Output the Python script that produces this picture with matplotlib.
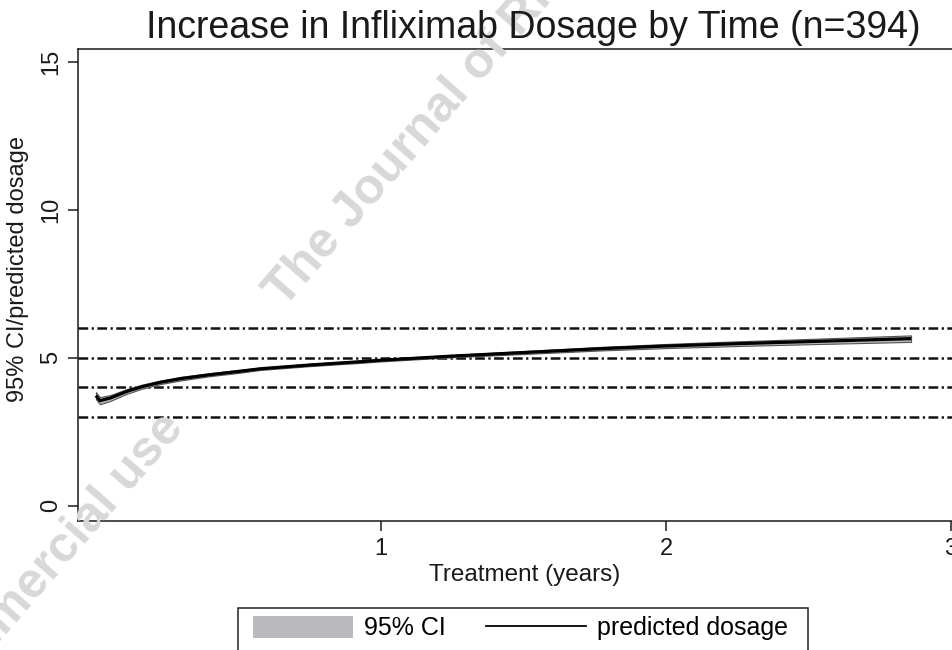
import matplotlib
matplotlib.use("Agg")
import matplotlib.pyplot as plt
from matplotlib.patches import Patch, Rectangle
from matplotlib.lines import Line2D

plt.rcParams['font.family'] = ['Liberation Sans', 'DejaVu Sans']
plt.rcParams['lines.scale_dashes'] = False

# ---- data ----
title = "Increase in Infliximab Dosage by Time (n=394)"
x_label = "Treatment (years)"
y_label = "95% CI/predicted dosage"
x_ticks = [1, 2, 3]
y_ticks = [0, 5, 10, 15]
ref_lines = [3, 4, 5, 6]

years = [0.0, 0.014, 0.05, 0.11, 0.16, 0.225, 0.30, 0.40, 0.50, 0.576, 0.752, 0.928,
         1.0, 1.25, 1.5, 1.77, 2.0, 2.25, 2.5, 2.86]
predicted = [3.72, 3.55, 3.64, 3.87, 4.02, 4.17, 4.30, 4.43, 4.54, 4.63, 4.76, 4.87,
             4.92, 5.06, 5.18, 5.31, 5.40, 5.48, 5.55, 5.65]
ci_low = [3.60, 3.43, 3.54, 3.79, 3.95, 4.11, 4.24, 4.38, 4.49, 4.59, 4.72, 4.83,
          4.88, 5.02, 5.13, 5.25, 5.33, 5.40, 5.46, 5.54]
ci_high = [3.84, 3.67, 3.74, 3.95, 4.09, 4.23, 4.36, 4.48, 4.59, 4.67, 4.80, 4.91,
           4.96, 5.10, 5.23, 5.37, 5.47, 5.56, 5.64, 5.76]

legend_labels = ["95% CI", "predicted dosage"]
watermark_a = "non-commercial use"
watermark_b = "The Journal of Rheumatology"

# ---- figure ----
W, H = 953, 650
fig = plt.figure(figsize=(W / 100, H / 100), dpi=100)
fig.patch.set_facecolor("white")

ax_left, ax_right, ax_top, ax_bottom = 78, 988, 49, 521
ax = fig.add_axes([ax_left / W, 1 - ax_bottom / H, (ax_right - ax_left) / W, (ax_bottom - ax_top) / H])
ax.set_xlim(-0.063, 3.13)
ax.set_ylim(-0.52, 15.45)
ax.patch.set_alpha(0)

ci_color = "#b9babe"
for yv in ref_lines:
    ax.axhline(yv, color="#111111", lw=1.8, dashes=(7, 2.5, 1.6, 2.5), zorder=2)

ax.fill_between(years, ci_low, ci_high, facecolor=ci_color, edgecolor="#555555", lw=0.8, zorder=3)
ax.plot(years, predicted, color="black", lw=2.3, solid_capstyle="butt", zorder=4)

ax.set_xticks(x_ticks)
ax.set_yticks(y_ticks)
ax.tick_params(axis="both", direction="out", length=7, width=1.1, colors="#1a1a1a", labelsize=17)
ax.tick_params(axis="x", pad=5.5)
ax.tick_params(axis="y", pad=4.5)
for lab in ax.get_yticklabels():
    lab.set_rotation(90)
    lab.set_va("center")
for sp in ax.spines.values():
    sp.set_linewidth(1.1)
    sp.set_color("#1a1a1a")

ax.set_xlabel(x_label, fontsize=17.5, color="#1a1a1a")
ax.xaxis.set_label_coords((525 - ax_left) / (ax_right - ax_left), -(563.5 - ax_bottom) / (ax_bottom - ax_top))
ax.set_ylabel(y_label, fontsize=17, color="#1a1a1a")
ax.yaxis.set_label_coords((29 - ax_left) / (ax_right - ax_left), (ax_bottom - 269) / (ax_bottom - ax_top))
fig.text(533 / W, 1 - 38 / H, title, fontsize=27, color="#1a1a1a", ha="center", va="baseline")

# legend (frame drawn separately so padding can match the reference)
handles = [Patch(facecolor=ci_color, edgecolor="none"),
           Line2D([], [], color="black", lw=1.3)]
leg = fig.legend(handles, legend_labels, loc="upper left", bbox_to_anchor=(245.5 / W, 1 - 608.5 / H),
                 ncol=2, fontsize=18, frameon=False, handlelength=4.0,
                 handleheight=0.96, handletextpad=0.44, columnspacing=1.6, borderpad=0.3,
                 borderaxespad=0)
fig.add_artist(Rectangle((238 / W, -0.05), (808 - 238) / W, 0.05 + (650 - 608) / H,
                         transform=fig.transFigure, facecolor="none", edgecolor="#222222", lw=1.1))

# watermark
wm_kw = dict(fontsize=36, fontweight="bold", color="#d8d8d8", rotation=49,
             rotation_mode="anchor", va="baseline", zorder=0)
fig.text(284 / W, 1 - 308 / H, watermark_b, ha="left", **wm_kw)
fig.text(185 / W, 1 - 429 / H, watermark_a, ha="right", **wm_kw)

fig.savefig("out.png", dpi=100, facecolor="white")
